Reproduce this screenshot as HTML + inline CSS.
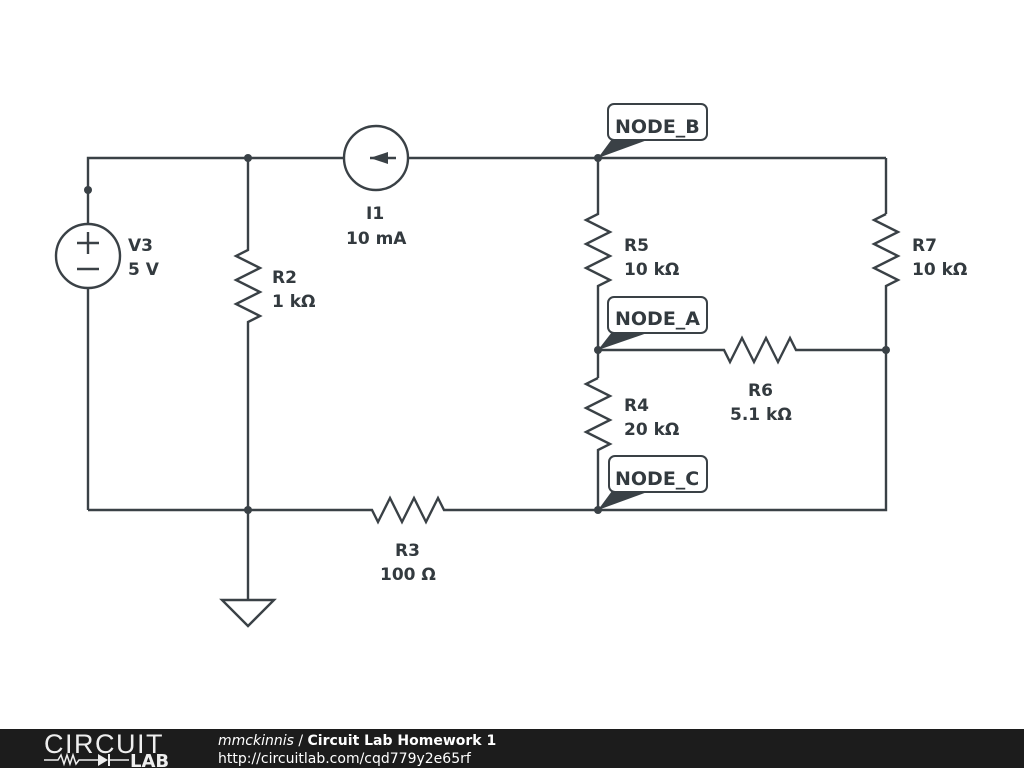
<!DOCTYPE html>
<html><head><meta charset="utf-8"><style>
html,body{margin:0;padding:0;background:#fff;width:1024px;height:768px;overflow:hidden}
svg{display:block}
text{font-family:"DejaVu Sans","Liberation Sans",sans-serif;font-weight:bold;font-size:17px;fill:#333a3f}
</style></head><body>
<svg width="1024" height="768" viewBox="0 0 1024 768" xmlns="http://www.w3.org/2000/svg">
<g stroke="#3a4146" stroke-width="2.4" fill="none" stroke-linejoin="miter">
<polyline points="88,224 88,158 344,158"/>
<line x1="408" y1="158" x2="886" y2="158"/>
<polyline points="886,158 886,214"/>
<circle cx="88" cy="256" r="32"/>
<line x1="88" y1="288" x2="88" y2="510"/>
<line x1="77" y1="243" x2="99" y2="243"/><line x1="88" y1="232" x2="88" y2="254"/>
<line x1="77" y1="269" x2="99" y2="269"/>
<circle cx="376" cy="158" r="32"/>
<line x1="370" y1="158" x2="396" y2="158"/>
<polyline points="248,158 248,250 236,256 260,268 236,280 260,292 236,304 260,316 248,322 248,600"/>
<polyline points="88,510 372,510 378,522 390,498 402,522 414,498 426,522 438,498 444,510 886,510 886,350"/>
<polyline points="598,158 598,214 586,220 610,232 586,244 610,256 586,268 610,280 598,286 598,378"/>
<polyline points="598,378 586,384 610,396 586,408 610,420 586,432 610,444 598,450 598,510"/>
<polyline points="886,214 874,220 898,232 874,244 898,256 874,268 898,280 886,286 886,350"/>
<polyline points="598,350 724,350 730,362 742,338 754,362 766,338 778,362 790,338 796,350 886,350"/>
<polygon points="222,600 274,600 248,626"/>
</g>
<polygon points="370,158 388,152 388,164" fill="#3a4146"/>
<g fill="#3a4146">
<circle cx="88" cy="190" r="4"/><circle cx="248" cy="158" r="4"/><circle cx="598" cy="158" r="4"/>
<circle cx="598" cy="350" r="4"/><circle cx="886" cy="350" r="4"/><circle cx="248" cy="510" r="4"/><circle cx="598" cy="510" r="4"/>
</g>
<g fill="#fff" stroke="#3a4146" stroke-width="2">
<rect x="608" y="104" width="99" height="36" rx="6"/>
<rect x="608" y="297" width="99" height="36" rx="6"/>
<rect x="609" y="456" width="98" height="36" rx="6"/>
</g>
<g fill="#3a4146">
<polygon points="598,158 612,139 650,139"/>
<polygon points="598,350 612,332 650,332"/>
<polygon points="598,510 612,491 650,491"/>
</g>
<text x="615" y="133" style="font-size:19px">NODE_B</text>
<text x="615" y="325" style="font-size:19px">NODE_A</text>
<text x="615" y="485" style="font-size:19px">NODE_C</text>
<text x="128" y="251">V3</text><text x="128" y="275">5 V</text>
<text x="366" y="219">I1</text><text x="346" y="244">10 mA</text>
<text x="272" y="283">R2</text><text x="272" y="307">1 kΩ</text>
<text x="624" y="251">R5</text><text x="624" y="275">10 kΩ</text>
<text x="912" y="251">R7</text><text x="912" y="275">10 kΩ</text>
<text x="624" y="411">R4</text><text x="624" y="435">20 kΩ</text>
<text x="748" y="396">R6</text><text x="730" y="420">5.1 kΩ</text>
<text x="395" y="556">R3</text><text x="380" y="580">100 Ω</text>
<rect x="0" y="729" width="1024" height="39" fill="#1c1c1c"/>
<text x="44" y="753" style="font-family:'Liberation Sans',sans-serif;font-weight:normal;font-size:27px;fill:#eee;letter-spacing:1.5px">CIRCUIT</text>
<polyline points="44,760 58,760 61,755 64,764 67,755 70,764 73,755 76,764 79,760 98,760" stroke="#eee" stroke-width="1.5" fill="none"/>
<polygon points="98,754 98,766 108,760" fill="#eee"/><line x1="109" y1="754" x2="109" y2="766" stroke="#eee" stroke-width="2"/>
<line x1="109" y1="760" x2="129" y2="760" stroke="#eee" stroke-width="1.5"/>
<text x="130" y="767" style="font-family:'DejaVu Sans',sans-serif;font-size:18px;fill:#eee">LAB</text>
<text x="218" y="745" style="font-size:14px;fill:#fff"><tspan style="font-style:italic;font-weight:normal">mmckinnis</tspan><tspan style="font-weight:normal"> / </tspan>Circuit Lab Homework 1</text>
<text x="218" y="763" style="font-size:14px;font-weight:normal;fill:#fff">http://circuitlab.com/cqd779y2e65rf</text>
</svg>
</body></html>
